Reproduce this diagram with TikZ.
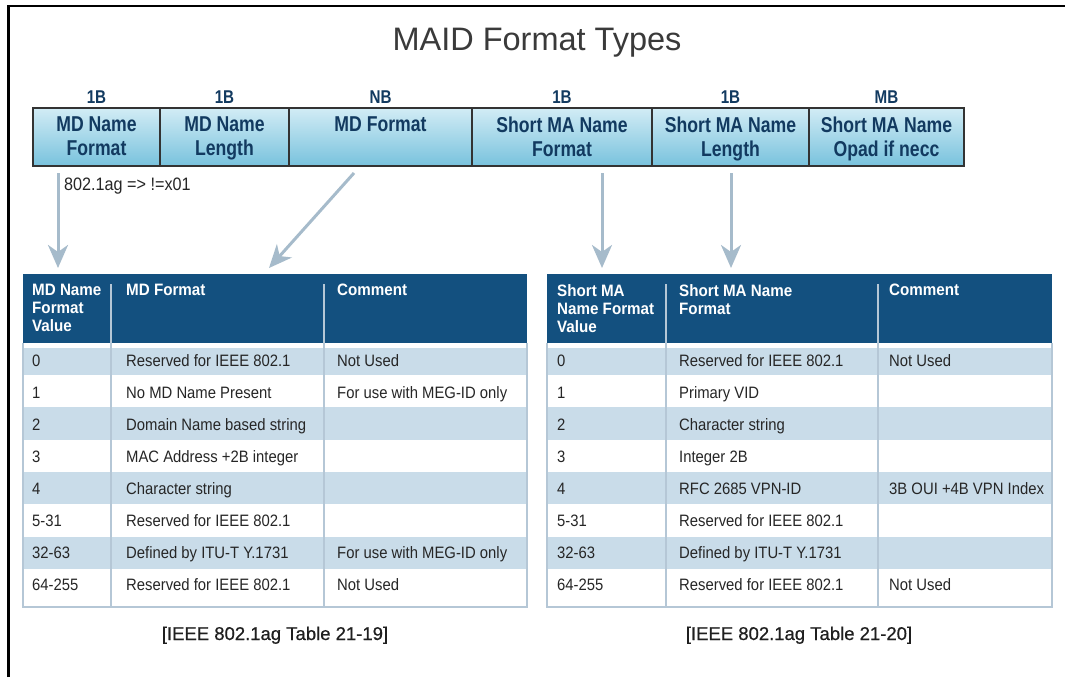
\documentclass[tikz,border=0pt]{standalone}
\usepackage{fontspec}
\setmainfont{Liberation Sans}
\newfontfamily\cndA[FakeStretch=0.82]{Liberation Sans}
\newfontfamily\cndB[FakeStretch=0.92]{Liberation Sans}
\newfontfamily\cndC[FakeStretch=0.9]{Liberation Sans}
\newfontfamily\medfont[FakeBold=0.6]{Liberation Sans}
\usetikzlibrary{arrows.meta}
\definecolor{navy}{HTML}{13507F}
\definecolor{hdrtxt}{HTML}{123A60}
\definecolor{rowblue}{HTML}{C9DCE9}
\definecolor{gridc}{HTML}{B5C7D6}
\definecolor{arrowc}{HTML}{A6BBCB}
\definecolor{boxtop}{HTML}{D2ECF5}
\definecolor{boxbot}{HTML}{78C2DD}
\definecolor{titlec}{HTML}{3A3A3A}
\definecolor{bodytxt}{HTML}{262626}
\tikzset{
 fieldbox/.style={draw=black!80, line width=1.5pt, top color=boxtop, bottom color=boxbot, minimum height=58pt, inner sep=0pt, outer sep=0pt, anchor=north west},
 fieldtxt/.style={font=\cndA\bfseries\fontsize{21.5}{24}\selectfont, text=hdrtxt, align=center, inner sep=0pt, anchor=north},
 sizetxt/.style={font=\cndA\bfseries\fontsize{18.5}{20}\selectfont, text=hdrtxt, inner sep=0pt, anchor=base},
 thead/.style={fill=navy, minimum height=69pt, inner sep=0pt, outer sep=0pt, anchor=north west},
 theadtxt/.style={font=\cndB\bfseries\fontsize{16.5}{18}\selectfont, text=white, align=left, inner sep=0pt, anchor=north west},
 cell/.style={font=\cndC\fontsize{16.5}{19}\selectfont, text=bodytxt, inner sep=0pt, anchor=base west},
 arr/.style={draw=arrowc, line width=3pt, -{Stealth[length=23pt,width=20pt,inset=7pt]}},
 gridline/.style={draw=gridc, line width=2pt},
 captxt/.style={font=\medfont\fontsize{18.5}{21}\selectfont, text=black!88, inner sep=0pt, anchor=base},
}
\begin{document}
\begin{tikzpicture}[x=1pt,y=-1pt]
\useasboundingbox (0,0) rectangle (1065,677);
\fill[white] (0,0) rectangle (1065,677);
% frame
\draw[line width=2.5pt] (8.5,677) -- (8.5,6) -- (1065,6);
% title
\node[font=\fontsize{32.5}{36}\selectfont, text=titlec, inner sep=0pt, anchor=base] (title) at (537,51) {MAID Format Types};

% field boxes
\node[fieldbox, minimum width=127pt] (fA) at (33,108) {};
\node[fieldbox, minimum width=129pt] (fB) at (160,108) {};
\node[fieldbox, minimum width=183pt] (fC) at (289,108) {};
\node[fieldbox, minimum width=180pt] (fD) at (472,108) {};
\node[fieldbox, minimum width=157pt] (fE) at (652,108) {};
\node[fieldbox, minimum width=155pt] (fF) at (809,108) {};

\node[fieldtxt] (tA) at ([yshift=-9pt]fA.north) {MD Name\\Format};
\node[fieldtxt] (tB) at ([yshift=-9pt]fB.north) {MD Name\\Length};
\node[fieldtxt] (tC) at ([yshift=-9pt]fC.north) {MD Format};
\node[fieldtxt] (tD) at ([yshift=-9pt]fD.north) {Short MA Name\\Format};
\node[fieldtxt] (tE) at ([yshift=-9pt]fE.north) {Short MA Name\\Length};
\node[fieldtxt] (tF) at ([yshift=-9pt]fF.north) {Short MA Name\\Opad if necc};

\node[sizetxt] (sA) at ([yshift=5pt]fA.north) {1B};
\node[sizetxt] (sB) at ([yshift=5pt]fB.north) {1B};
\node[sizetxt] (sC) at ([yshift=5pt]fC.north) {NB};
\node[sizetxt] (sD) at ([yshift=5pt]fD.north) {1B};
\node[sizetxt] (sE) at ([yshift=5pt]fE.north) {1B};
\node[sizetxt] (sF) at ([yshift=5pt]fF.north) {MB};

\node[font=\cndC\fontsize{18}{20}\selectfont, text=bodytxt, inner sep=0pt, anchor=base west] (note) at (64,190) {802.1ag => !=x01};

% ---------- left table ----------
\foreach \t in {348,407.3,471.9,536.5}{
  \pgfmathsetmacro\b{\t==348 ? 375 : \t+32.3}
  \fill[rowblue] (23,\t) rectangle (527,\b);
}
\node[thead, minimum width=88pt] (L1) at (23,274) {};
\node[thead, minimum width=213pt] (L2) at (111,274) {};
\node[thead, minimum width=203pt] (L3) at (324,274) {};
\draw[gridline] (L1.south west) -- (23,607) -- (527,607) -- (L3.south east);
\draw[gridline] ([yshift=-10pt]L1.north east) -- (111,607);
\draw[gridline] ([yshift=-10pt]L2.north east) -- (324,607);
\node[theadtxt] (L1t) at (32,284) {MD Name\\Format\\Value};
\node[theadtxt] (L2t) at (126,284) {MD Format};
\node[theadtxt] (L3t) at (337,284) {Comment};

\foreach \i/\v/\f/\c/\y in {
 0/0/Reserved for IEEE 802.1/Not Used/366,
 1/1/No MD Name Present/For use with MEG-ID only/398,
 2/2/Domain Name based string//430,
 3/3/MAC Address +2B integer//462,
 4/4/Character string//494,
 5/5-31/Reserved for IEEE 802.1//526,
 6/32-63/Defined by ITU-T Y.1731/For use with MEG-ID only/558,
 7/64-255/Reserved for IEEE 802.1/Not Used/590}{
  \node[cell] (lv\i) at (32,\y) {\v};
  \node[cell] (lf\i) at (126,\y) {\f};
  \node[cell] (lc\i) at (337,\y) {\c};
}
\node[captxt] (capL) at (275,640) {[IEEE 802.1ag Table 21-19]};

% ---------- right table ----------
\foreach \t in {348,407.3,471.9,536.5}{
  \pgfmathsetmacro\b{\t==348 ? 375 : \t+32.3}
  \fill[rowblue] (547,\t) rectangle (1052,\b);
}
\node[thead, minimum width=119pt] (R1) at (547,274) {};
\node[thead, minimum width=212pt] (R2) at (666,274) {};
\node[thead, minimum width=174pt] (R3) at (878,274) {};
\draw[gridline] (R1.south west) -- (547,607) -- (1052,607) -- (R3.south east);
\draw[gridline] ([yshift=-10pt]R1.north east) -- (666,607);
\draw[gridline] ([yshift=-10pt]R2.north east) -- (878,607);
\node[theadtxt] (R1t) at (557,284) {Short MA\\Name Format\\Value};
\node[theadtxt] (R2t) at (679,284) {Short MA Name\\Format};
\node[theadtxt] (R3t) at (889,284) {Comment};

\foreach \i/\v/\f/\c/\y in {
 0/0/Reserved for IEEE 802.1/Not Used/366,
 1/1/Primary VID//398,
 2/2/Character string//430,
 3/3/Integer 2B//462,
 4/4/RFC 2685 VPN-ID/3B OUI +4B VPN Index/494,
 5/5-31/Reserved for IEEE 802.1//526,
 6/32-63/Defined by ITU-T Y.1731//558,
 7/64-255/Reserved for IEEE 802.1/Not Used/590}{
  \node[cell] (rv\i) at (557,\y) {\v};
  \node[cell] (rf\i) at (679,\y) {\f};
  \node[cell] (rc\i) at (889,\y) {\c};
}
\node[captxt] (capR) at (799,640) {[IEEE 802.1ag Table 21-20]};

% ---------- arrows ----------
\coordinate (a1s) at (58,173);   \coordinate (a1e) at (58,268);
\coordinate (a2s) at (354,173);  \coordinate (a2e) at (269,268);
\coordinate (a3s) at (602,173);  \coordinate (a3e) at (602,268);
\coordinate (a4s) at (731,173);  \coordinate (a4e) at (731,268);
\draw[arr] (a1s) -- (a1e);
\draw[arr] (a2s) -- (a2e);
\draw[arr] (a3s) -- (a3e);
\draw[arr] (a4s) -- (a4e);
\end{tikzpicture}
\end{document}
